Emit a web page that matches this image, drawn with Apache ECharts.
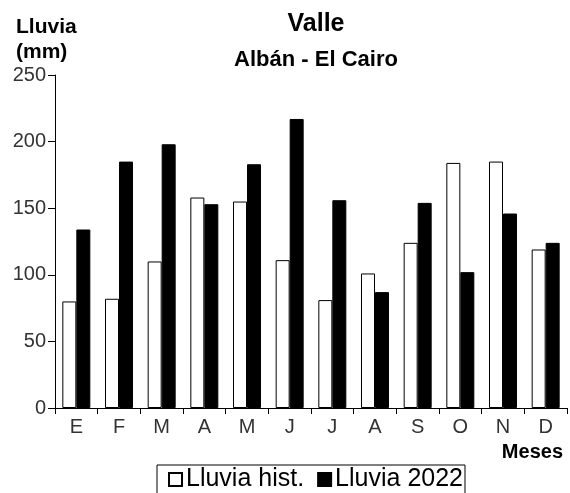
<!DOCTYPE html>
<html>
<head>
<meta charset="utf-8">
<script src="https://cdn.jsdelivr.net/npm/echarts@6/dist/echarts.min.js"></script>
<style>
  html, body { margin: 0; padding: 0; background: #fff; }
  #chart { width: 570px; height: 493px; }
</style>
</head>
<body>
<div id="chart"></div>
<script>
const meses = ['E', 'F', 'M', 'A', 'M', 'J', 'J', 'A', 'S', 'O', 'N', 'D']
const lluviaHist = [80, 82, 110, 158, 155, 111, 81, 101, 124, 184, 185, 119]
const lluvia2022 = [134, 185, 198, 153, 183, 217, 156, 87, 154, 102, 146, 124]
const yTicks = [0, 50, 100, 150, 200, 250]

const font = 'Liberation Sans, Arial, sans-serif'
const chart = echarts.init(document.getElementById('chart'))

chart.setOption({
  animation: false,
  textStyle: { fontFamily: font },
  title: [
    { text: 'Valle', left: 311, top: 7, textAlign: 'center', textStyle: { fontSize: 25, fontWeight: 'bold', color: '#000' } },
    { text: 'Albán - El Cairo', left: 311, top: 44, textAlign: 'center', textStyle: { fontSize: 22, fontWeight: 'bold', color: '#000' } },
    { text: 'Lluvia\n(mm)', left: 11, top: 10, textStyle: { fontSize: 21, fontWeight: 'bold', color: '#000', lineHeight: 25 } },
    { text: 'Meses', right: 2, top: 437, textStyle: { fontSize: 20, fontWeight: 'bold', color: '#000' } }
  ],
  legend: {
    left: 157,
    top: 465,
    padding: [2, 2, 10, 11],
    borderColor: '#000',
    borderWidth: 1,
    itemWidth: 13,
    itemHeight: 13,
    itemGap: 13,
    icon: 'rect',
    textStyle: { fontSize: 25, color: '#000', padding: [0, 0, 0, -1] },
    data: ['Lluvia hist.', 'Lluvia 2022']
  },
  grid: { left: 55, right: 3, top: 75, bottom: 85 },
  xAxis: {
    type: 'category',
    data: meses,
    axisLine: { lineStyle: { color: '#000', width: 1 } },
    axisTick: { show: true, length: 6, lineStyle: { color: '#000' } },
    axisLabel: { color: '#333', fontSize: 20, margin: 9 }
  },
  yAxis: {
    type: 'value',
    min: yTicks[0],
    max: yTicks[yTicks.length - 1],
    interval: 50,
    splitLine: { show: false },
    axisLine: { show: true, lineStyle: { color: '#000', width: 1 } },
    axisTick: { show: true, length: 7, lineStyle: { color: '#000' } },
    axisLabel: { color: '#333', fontSize: 20, margin: 9 }
  },
  series: [
    {
      name: 'Lluvia hist.',
      type: 'bar',
      data: lluviaHist,
      barWidth: 14,
      barGap: '0%',
      itemStyle: { color: '#fff', borderColor: '#000', borderWidth: 1 }
    },
    {
      name: 'Lluvia 2022',
      type: 'bar',
      data: lluvia2022,
      barWidth: 14,
      itemStyle: { color: '#000', borderColor: '#000', borderWidth: 1 }
    }
  ]
})
</script>
</body>
</html>
